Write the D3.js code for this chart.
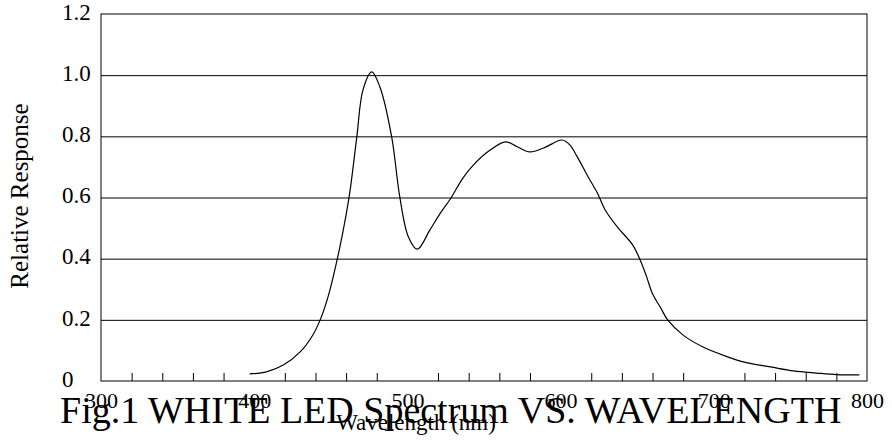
<!DOCTYPE html>
<html>
<head>
<meta charset="utf-8">
<script src="https://cdn.jsdelivr.net/npm/d3@7"></script>
<style>
  body { margin: 0; background: #fff; }
  svg { display: block; font-family: "Liberation Serif", "Times New Roman", serif; }
</style>
</head>
<body>
<div class="chart-container"></div>
<script>
// Spectrum: wavelength (nm) and relative response
var wavelength = [397, 408, 419, 430, 438, 443, 448, 452, 456, 459.5, 462.5, 467, 471, 476.7, 482, 489.7, 495, 500.6, 506.5, 514.7, 521, 528, 536, 543, 554, 564, 572, 580, 589, 601, 606, 611, 618, 624, 629, 637, 647, 652, 656, 660, 665, 670, 680, 693, 709, 722, 737, 752, 767, 780, 795]
var response = [0.023, 0.030, 0.052, 0.095, 0.148, 0.199, 0.272, 0.350, 0.440, 0.530, 0.620, 0.799, 0.952, 1.011, 0.962, 0.799, 0.603, 0.472, 0.431, 0.494, 0.545, 0.595, 0.662, 0.706, 0.755, 0.782, 0.765, 0.749, 0.762, 0.788, 0.772, 0.732, 0.667, 0.615, 0.560, 0.504, 0.445, 0.395, 0.343, 0.285, 0.242, 0.199, 0.150, 0.111, 0.079, 0.059, 0.046, 0.033, 0.026, 0.021, 0.020]

// Tick values and labels
var xMajor = [300, 400, 500, 600, 700, 800]
var xMinor = [320, 340, 360, 380, 420, 440, 460, 480, 520, 540, 560, 580, 620, 640, 660, 680, 720, 740, 760, 780]
var yTicks = [0, 0.2, 0.4, 0.6, 0.8, 1.0, 1.2]
var yLabels = ["0", "0.2", "0.4", "0.6", "0.8", "1.0", "1.2"]
var yGrid = [0.2, 0.4, 0.6, 0.8, 1.0]

var chartTitle = "Fig.1 WHITE LED Spectrum VS. WAVELENGTH"
var xTitle = "Wavelength (nm)"
var yTitle = "Relative Response"

var width = 892, height = 440
//plot box edges ("top" is taken by window.top, so keep them in an object)
var box = {left: 101, right: 867, top: 14, bottom: 381}
var serif = "'Liberation Serif', 'Times New Roman', serif"

var data = wavelength.map((w, i) => ({w: w, v: response[i]}))

var x = d3.scaleLinear().domain([300, 800]).range([box.left, box.right])
var y = d3.scaleLinear().domain([0, 1.2]).range([box.bottom, box.top])

var svg = d3.select(".chart-container").append("svg")
    .attr("width", width)
    .attr("height", height)

//Horizontal grid lines
svg.append("g")
    .attr("transform", `translate(${box.left},0)`)
    .call(d3.axisLeft(y).tickValues(yGrid).tickSize(-(box.right - box.left)).tickFormat(""))
    .call(g => g.select(".domain").remove())
    .call(g => g.selectAll(".tick line").attr("stroke", "#000"))

//Y tick labels
svg.append("g")
    .attr("transform", `translate(${box.left},0)`)
    .call(d3.axisLeft(y).tickValues(yTicks).tickSize(0).tickFormat((d, i) => yLabels[i]))
    .call(g => g.select(".domain").remove())
    .call(g => g.selectAll(".tick text")
        .attr("x", -39)
        .attr("dy", "0.23em")
        .attr("text-anchor", "start")
        .attr("fill", "#000")
        .style("font-size", "23px")
        .style("font-family", serif))

//Minor ticks on the bottom, pointing inwards
svg.append("g")
    .attr("transform", `translate(0,${box.bottom})`)
    .call(d3.axisBottom(x).tickValues(xMinor).tickSize(-8).tickFormat(""))
    .call(g => g.select(".domain").remove())
    .call(g => g.selectAll(".tick line").attr("stroke", "#000"))

//X tick labels
svg.append("g")
    .attr("transform", `translate(0,${box.bottom})`)
    .call(d3.axisBottom(x).tickValues(xMajor).tickSize(0).tickFormat(d3.format("d")))
    .call(g => g.select(".domain").remove())
    .call(g => g.selectAll(".tick text")
        .attr("y", 27)
        .attr("dy", 0)
        .attr("fill", "#000")
        .style("font-size", "22px")
        .style("font-family", serif))

//Frame
svg.append("rect")
    .attr("x", box.left)
    .attr("y", box.top)
    .attr("width", box.right - box.left)
    .attr("height", box.bottom - box.top)
    .attr("fill", "none")
    .attr("stroke", "#000")
    .attr("stroke-width", 1)

//Spectrum line
var line = d3.line()
    .x(d => x(d.w))
    .y(d => y(d.v))
    .curve(d3.curveCatmullRom)

svg.append("path")
    .datum(data)
    .attr("fill", "none")
    .attr("stroke", "#000")
    .attr("stroke-width", 1.2)
    .attr("d", line)

//Axis titles
svg.append("text")
    .attr("transform", "translate(28,196) rotate(-90)")
    .attr("text-anchor", "middle")
    .style("font-size", "25px")
    .text(yTitle)

svg.append("text")
    .attr("x", 416)
    .attr("y", 430)
    .attr("text-anchor", "middle")
    .style("font-size", "23px")
    .text(xTitle)

//Figure caption, drawn on top of the axis labels like in the original
svg.append("text")
    .attr("x", 60)
    .attr("y", 423)
    .style("font-size", "38px")
    .text(chartTitle)
</script>
</body>
</html>
